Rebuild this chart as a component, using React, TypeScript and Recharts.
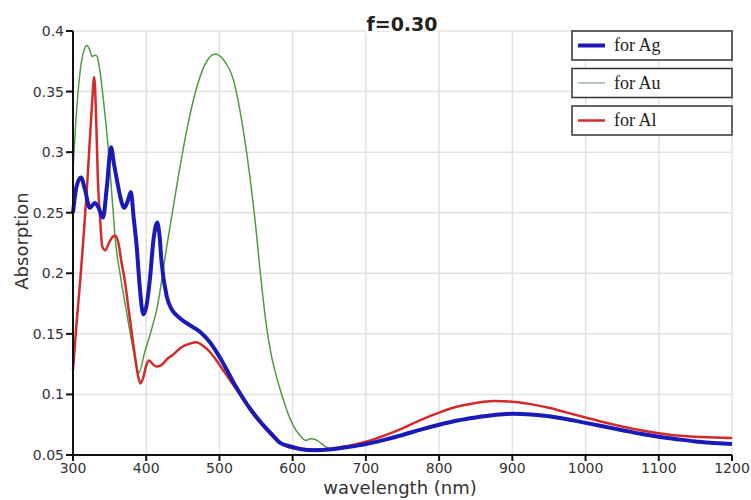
import React from "react";
import {
  LineChart,
  Line,
  XAxis,
  YAxis,
  CartesianGrid,
  Customized,
} from "recharts";

const FONT = "'DejaVu Sans', sans-serif";

// wavelength grid (nm) and absorption for each metal
const auWl = [
  300, 305, 310, 315, 319, 323, 326, 330, 333, 337, 341, 348, 355, 357, 365,
  374, 382, 390, 398, 406, 415, 428, 443, 456, 467, 480, 494, 507, 519, 525,
  531, 538, 545, 550, 555, 560, 565, 570, 576, 583, 592, 601, 610, 618, 624,
  630, 638, 646, 655,
];
const auAbs = [
  0.285, 0.335, 0.368, 0.384, 0.388, 0.384, 0.379, 0.38, 0.379, 0.366, 0.346,
  0.304, 0.25, 0.233, 0.197, 0.165, 0.138, 0.118, 0.135, 0.151, 0.172, 0.222,
  0.277, 0.32, 0.349, 0.372, 0.381, 0.375, 0.36, 0.344, 0.324, 0.296, 0.263,
  0.236, 0.205, 0.177, 0.153, 0.135, 0.119, 0.104, 0.087, 0.074, 0.066,
  0.062, 0.0635, 0.063, 0.06, 0.0565, 0.055,
];

const agWl = [
  300, 305, 311, 316, 323, 330, 335, 341, 346, 352, 356, 360, 365, 370, 375,
  379, 383, 387, 391, 396, 400, 405, 410, 415, 418, 421, 428, 435, 442, 450,
  460, 473, 487, 501, 512, 520, 528, 541, 555, 570, 583, 597, 610, 630, 650,
  675, 700, 725, 750, 775, 800, 825, 850, 875, 900, 925, 950, 975, 1000, 1025,
  1050, 1075, 1100, 1125, 1150, 1175, 1200,
];
const agAbs = [
  0.25, 0.272, 0.279, 0.27, 0.254, 0.258, 0.254, 0.246, 0.27, 0.304, 0.29,
  0.277, 0.262, 0.254, 0.26, 0.267, 0.245, 0.222, 0.19, 0.166, 0.172, 0.195,
  0.228, 0.242, 0.232, 0.209, 0.181, 0.17, 0.165, 0.161, 0.157, 0.152, 0.143,
  0.13, 0.118, 0.109, 0.101, 0.089, 0.078, 0.068, 0.06, 0.057, 0.055, 0.054,
  0.0545, 0.0565, 0.059, 0.0625, 0.0665, 0.071, 0.075, 0.0785, 0.081, 0.083,
  0.084, 0.0835, 0.082, 0.0795, 0.0765, 0.0735, 0.0705, 0.0675, 0.065, 0.063,
  0.0612, 0.06, 0.059,
];

const alWl = [
  300, 305, 310, 315, 319, 323, 326, 329, 332, 334, 337, 340, 344, 349, 354,
  358, 362, 366, 371, 376, 380, 385, 389, 392, 396, 400, 404, 409, 414, 420,
  430, 437, 448, 460, 468, 478, 487, 496, 505, 512, 520, 528, 541, 555, 570,
  583, 597, 610, 630, 650, 675, 700, 725, 750, 775, 800, 825, 850, 875, 900,
  925, 950, 975, 1000, 1025, 1050, 1075, 1100, 1125, 1150, 1175, 1200,
];
const alAbs = [
  0.12, 0.16, 0.195, 0.235, 0.27, 0.31, 0.34, 0.362, 0.32, 0.277, 0.245,
  0.222, 0.219, 0.225, 0.23, 0.231, 0.225, 0.21, 0.193, 0.17, 0.152, 0.13,
  0.115, 0.109, 0.114, 0.124, 0.128, 0.125, 0.123, 0.124, 0.13, 0.133, 0.139,
  0.142, 0.143, 0.14, 0.135, 0.128, 0.12, 0.114, 0.107, 0.1, 0.088, 0.077,
  0.067, 0.06, 0.056, 0.055, 0.0545, 0.055, 0.0575, 0.061, 0.066, 0.072,
  0.079, 0.085, 0.09, 0.093, 0.0945, 0.094, 0.092, 0.089, 0.085, 0.081, 0.077,
  0.0735, 0.0705, 0.068, 0.066, 0.065, 0.0645, 0.064,
];

const xTicks = [300, 400, 500, 600, 700, 800, 900, 1000, 1100, 1200];
const yTicks = [0.05, 0.1, 0.15, 0.2, 0.25, 0.3, 0.35, 0.4];

const legendItems = [
  { name: "for Ag", color: "#1a1ab8", width: 4 },
  { name: "for Au", color: "#9fb5a8", width: 1.5 },
  { name: "for Al", color: "#d42a2a", width: 2.5 },
];

const toPoints = (wl: number[], abs: number[]) =>
  wl.map((w, i) => ({ wl: w, abs: abs[i] }));

const auData = toPoints(auWl, auAbs);
const agData = toPoints(agWl, agAbs);
const alData = toPoints(alWl, alAbs);

function Decorations() {
  return (
    <g fontFamily={FONT}>
      <text
        x={402}
        y={31}
        textAnchor="middle"
        fontSize={19}
        fontWeight="bold"
        fill="#222"
        stroke="#fff"
        strokeWidth={6}
        paintOrder="stroke"
      >
        f=0.30
      </text>
      <text x={400} y={494} textAnchor="middle" fontSize={18} fill="#333">
        wavelength (nm)
      </text>
      <text
        x={28}
        y={241}
        textAnchor="middle"
        fontSize={18}
        fill="#333"
        transform="rotate(-90 28 241)"
      >
        Absorption
      </text>
      {legendItems.map((it, i) => {
        const top = 31 + i * 37.5;
        return (
          <g key={it.name}>
            <rect
              x={572}
              y={top}
              width={160}
              height={29}
              fill="#fff"
              stroke="#333"
              strokeWidth={1.5}
            />
            <line
              x1={578}
              x2={605}
              y1={top + 14.5}
              y2={top + 14.5}
              stroke={it.color}
              strokeWidth={it.width}
            />
            <text
              x={614}
              y={top + 20}
              fontFamily="'Liberation Serif', serif"
              fontSize={18}
              fill="#222"
            >
              {it.name}
            </text>
          </g>
        );
      })}
    </g>
  );
}

export default function App() {
  return (
    <div style={{ position: "absolute", left: 0, top: 0, background: "#fff" }}>
      <LineChart
        width={751}
        height={500}
        margin={{ top: 31, right: 19, bottom: 0, left: 0 }}
      >
        <CartesianGrid stroke="#e2e2e2" strokeWidth={1.5} />
        <XAxis
          dataKey="wl"
          type="number"
          domain={[300, 1200]}
          ticks={xTicks}
          allowDuplicatedCategory={false}
          height={45}
          tickSize={6}
          stroke="#111"
          strokeWidth={2}
          tick={{ fontSize: 14, fill: "#333", fontFamily: FONT }}
        />
        <YAxis
          type="number"
          domain={[0.05, 0.4]}
          ticks={yTicks}
          width={73}
          tickSize={7}
          stroke="#111"
          strokeWidth={2}
          tick={{ fontSize: 14, fill: "#333", fontFamily: FONT }}
        />
        <Line
          data={auData}
          dataKey="abs"
          type="monotone"
          stroke="#4f9b40"
          strokeWidth={1.5}
          dot={false}
          isAnimationActive={false}
        />
        <Line
          data={alData}
          dataKey="abs"
          type="monotone"
          stroke="#d42a2a"
          strokeWidth={2.5}
          dot={false}
          isAnimationActive={false}
        />
        <Line
          data={agData}
          dataKey="abs"
          type="monotone"
          stroke="#1a1ab8"
          strokeWidth={4}
          dot={false}
          isAnimationActive={false}
        />
        <Customized component={Decorations} />
      </LineChart>
    </div>
  );
}
